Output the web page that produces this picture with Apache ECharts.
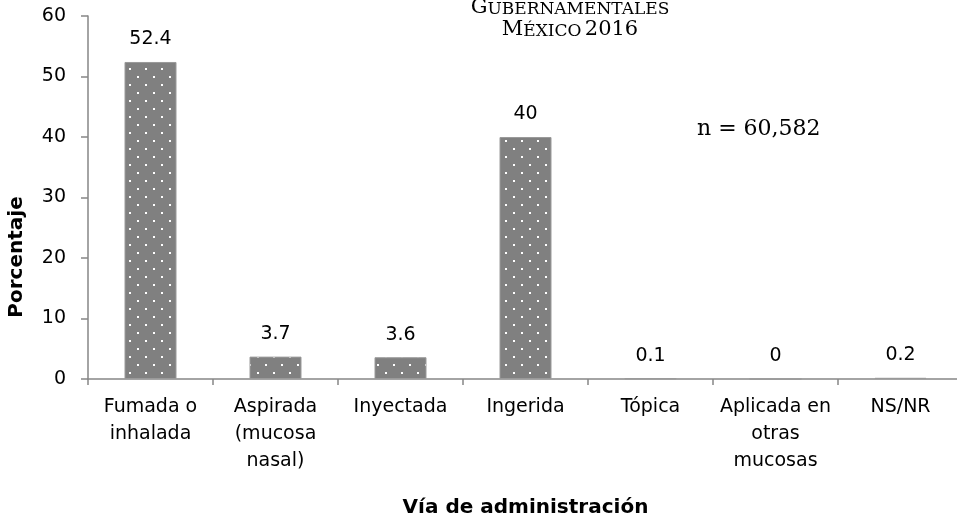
<!DOCTYPE html>
<html>
<head>
<meta charset="utf-8">
<script src="https://cdn.jsdelivr.net/npm/echarts@6/dist/echarts.min.js"></script>
<style>
  html, body { margin: 0; padding: 0; background: #fff; }
  #chart { width: 957px; height: 520px; }
</style>
</head>
<body>
<div id="chart"></div>
<script>
// Vía de administración
var categories = ['Fumada o\ninhalada', 'Aspirada\n(mucosa\nnasal)', 'Inyectada', 'Ingerida', 'Tópica', 'Aplicada en\notras\nmucosas', 'NS/NR'];
var values = [52.4, 3.7, 3.6, 40, 0.1, 0, 0.2];
var yTicks = [0, 10, 20, 30, 40, 50, 60];

var sans = 'DejaVu Sans';
var serif = 'DejaVu Serif';

// trama de puntos blancos para las barras
function dotPattern() {
  var c = document.createElement('canvas');
  c.width = 16;
  c.height = 16;
  var ctx = c.getContext('2d');
  ctx.fillStyle = '#808080';
  ctx.fillRect(0, 0, 16, 16);
  ctx.fillStyle = '#ffffff';
  ctx.fillRect(1, 4, 2, 2);
  ctx.fillRect(9, 12, 2, 2);
  return c;
}

var myChart = echarts.init(document.getElementById('chart'));
var option = {
  animation: false,
  backgroundColor: '#fff',
  grid: { left: 88, right: -6, top: 16, bottom: 141, containLabel: false, outerBoundsMode: 'none' },
  graphic: [
    {
      type: 'text',
      x: 570,
      y: -4,
      style: {
        text: '{a|G}{b|UBERNAMENTALES}\n{a|M}{b|ÉXICO} {a|2016}',
        textAlign: 'center',
        fill: '#000',
        rich: {
          a: { fontFamily: serif, fontSize: 21, lineHeight: 22, verticalAlign: 'bottom', fill: '#000' },
          b: { fontFamily: serif, fontSize: 17, lineHeight: 22, verticalAlign: 'bottom', fill: '#000' }
        }
      }
    },
    {
      type: 'text',
      x: 697,
      y: 129,
      style: {
        text: 'n = 60,582',
        font: '22px "DejaVu Serif"',
        fill: '#000',
        verticalAlign: 'middle'
      }
    },
    {
      type: 'text',
      x: 17,
      y: 257,
      rotation: Math.PI / 2,
      style: {
        text: 'Porcentaje',
        font: 'bold 20px "DejaVu Sans"',
        fill: '#000',
        align: 'center',
        verticalAlign: 'middle'
      }
    }
  ],
  xAxis: {
    type: 'category',
    data: categories,
    name: 'Vía de administración',
    nameLocation: 'middle',
    nameGap: 119,
    nameTextStyle: { fontFamily: sans, fontSize: 20, fontWeight: 'bold', color: '#000' },
    axisLine: { lineStyle: { color: '#868686', width: 1.5 } },
    axisTick: { show: true, alignWithLabel: false, length: 6, lineStyle: { color: '#868686', width: 1.5 } },
    axisLabel: { interval: 0, margin: 15, fontFamily: sans, fontSize: 19, lineHeight: 27, color: '#000' }
  },
  yAxis: {
    type: 'value',
    min: 0,
    max: 60,
    interval: 10,
    axisLine: { show: true, lineStyle: { color: '#868686', width: 1.5 } },
    axisTick: { show: true, length: 7, lineStyle: { color: '#868686', width: 1.5 } },
    axisLabel: {
      margin: 22, fontFamily: sans, fontSize: 19, color: '#000',
      formatter: function (v) { return yTicks.indexOf(v) >= 0 ? String(v) : ''; }
    },
    splitLine: { show: false }
  },
  series: [
    {
      type: 'bar',
      data: values,
      barWidth: 52,
      itemStyle: {
        color: { image: dotPattern(), repeat: 'repeat' },
        borderColor: '#9a9a9a',
        borderWidth: 1
      },
      label: {
        show: true,
        position: 'top',
        distance: 13,
        fontFamily: sans,
        fontSize: 19,
        color: '#000'
      }
    }
  ]
};
myChart.setOption(option);
</script>
</body>
</html>
